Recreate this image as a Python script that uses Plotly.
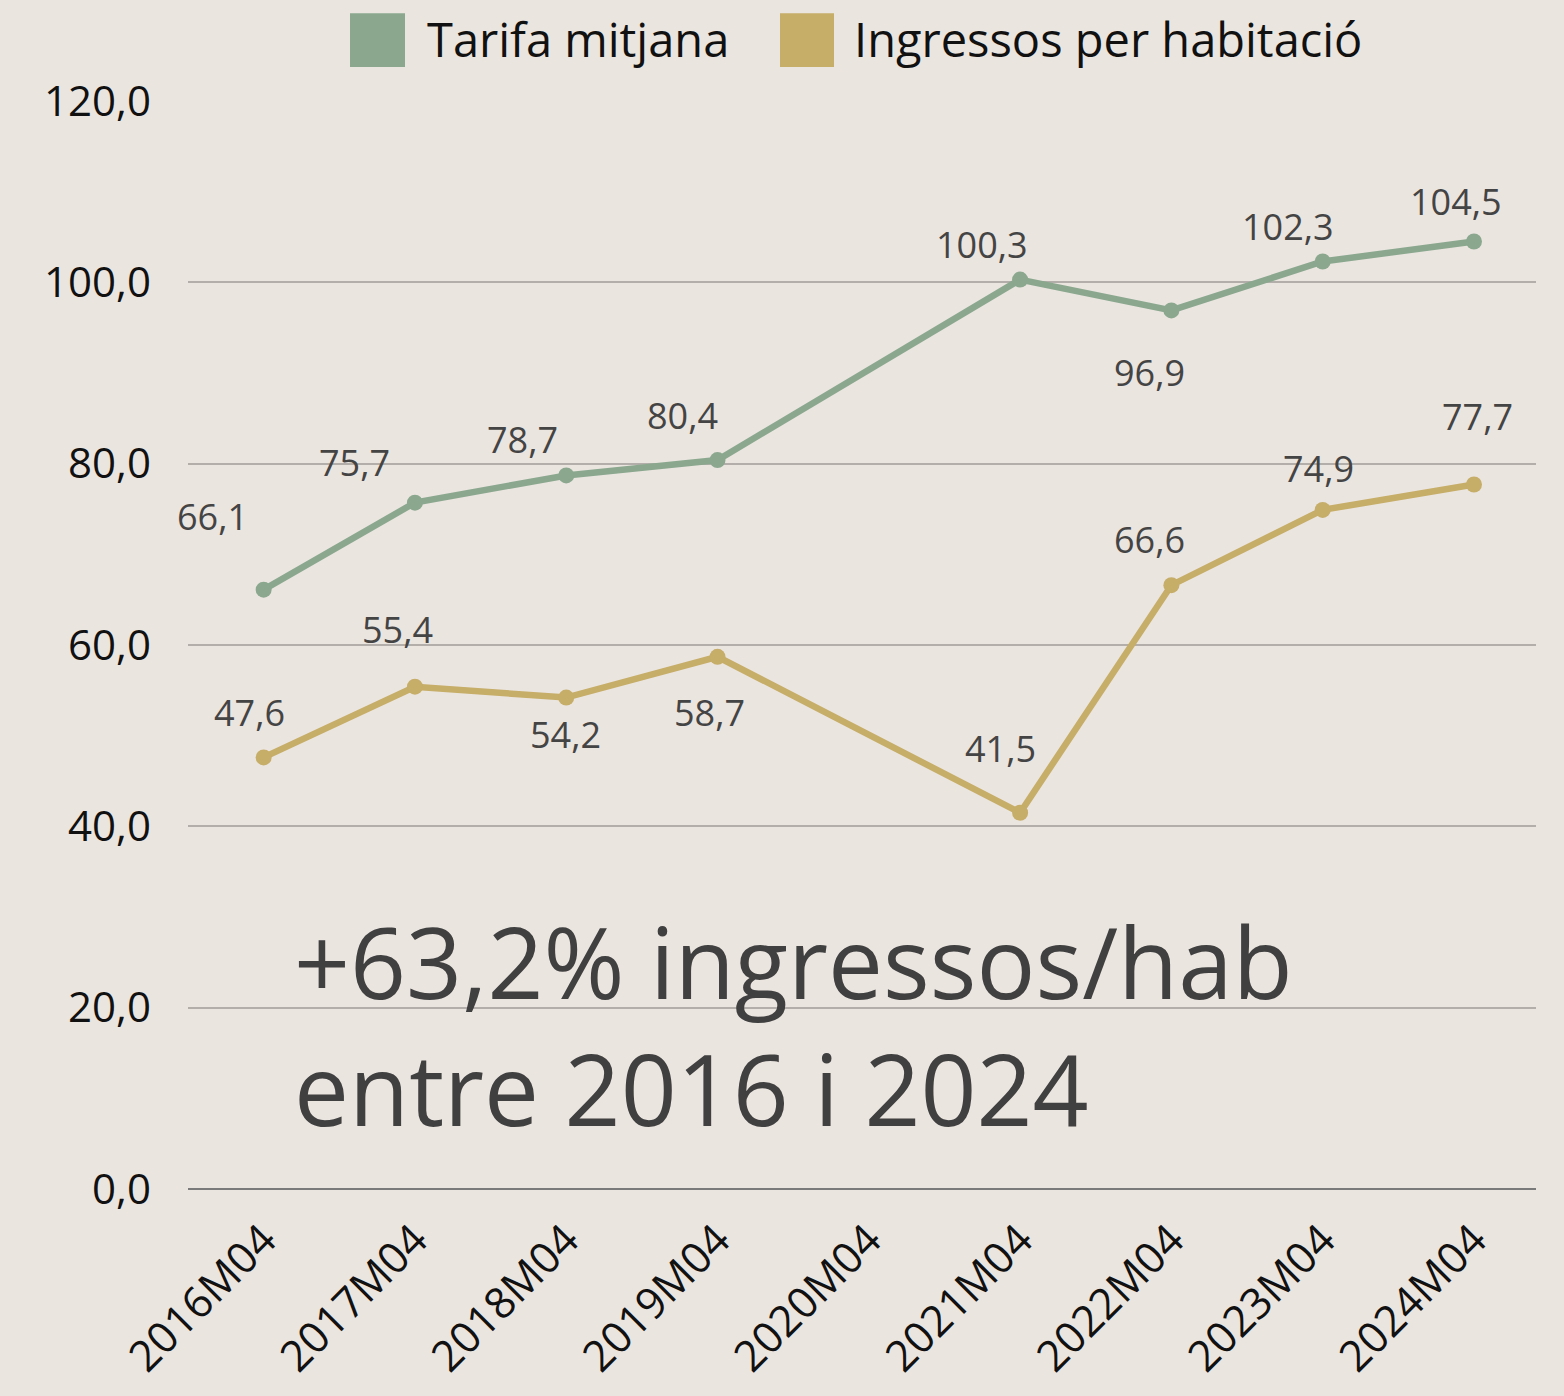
import plotly.graph_objects as go

categories = ["2016M04", "2017M04", "2018M04", "2019M04", "2020M04",
              "2021M04", "2022M04", "2023M04", "2024M04"]
tarifa = [66.1, 75.7, 78.7, 80.4, None, 100.3, 96.9, 102.3, 104.5]
ingressos = [47.6, 55.4, 54.2, 58.7, None, 41.5, 66.6, 74.9, 77.7]
series_names = ["Tarifa mitjana", "Ingressos per habitació"]
y_ticks = [0, 20, 40, 60, 80, 100, 120]
note_text = "+63,2% ingressos/hab<br>entre 2016 i 2024"

# label offsets (pixels) for the value labels: (xshift, yshift)
tarifa_offsets = [(-51, 73), (-60, 40), (-44, 36), (-35, 45), None,
                  (-38, 35), (-22, -62), (-35, 35), (-18, 40)]
ingressos_offsets = [(-14, 45), (-17, 57), (-1, -37), (-8, -56), None,
                     (-20, 64), (-22, 46), (-4, 41), (4, 68)]

GREEN = "#8BA88F"
GOLD = "#C6AD68"
BG = "#EBE5E0"
FONT = "Open Sans"

def fmt(v):
    return f"{v:.1f}".replace(".", ",")

fig = go.Figure()
for name, vals, col in [(series_names[0], tarifa, GREEN), (series_names[1], ingressos, GOLD)]:
    fig.add_trace(go.Scatter(
        x=categories, y=vals, name=name, mode="lines+markers",
        connectgaps=True, showlegend=False,
        line=dict(color=col, width=6.5),
        marker=dict(color=col, size=16),
    ))

annotations = []
for vals, offs in [(tarifa, tarifa_offsets), (ingressos, ingressos_offsets)]:
    for c, v, o in zip(categories, vals, offs):
        if v is None:
            continue
        annotations.append(dict(
            x=c, y=v, xref="x", yref="y", text=fmt(v), showarrow=False,
            xshift=o[0], yshift=o[1],
            font=dict(family=FONT, size=36, color="#444444"),
        ))

# legend (manual squares + text)
X0, X1, Y0, Y1 = 188, 1536, 101, 1191
def px(xp):
    return (xp - X0) / (X1 - X0)
def py(yp):
    return (Y1 - yp) / (Y1 - Y0)

shapes = []
legend_items = [(series_names[0], GREEN, 350, 405, 425), (series_names[1], GOLD, 780, 834, 852)]
for name, col, sx0, sx1, tx in legend_items:
    shapes.append(dict(type="rect", xref="paper", yref="paper",
                       x0=px(sx0), x1=px(sx1), y0=py(67), y1=py(13),
                       fillcolor=col, line=dict(width=0)))
    annotations.append(dict(x=px(tx), y=py(39), xref="paper", yref="paper",
                            text=name, showarrow=False, xanchor="left", yanchor="middle",
                            font=dict(family=FONT, size=47, color="#111111")))

annotations.append(dict(x=px(292), y=py(1026), xref="paper", yref="paper",
                        text=note_text, showarrow=False, xanchor="left", yanchor="middle",
                        align="left",
                        font=dict(family=FONT, size=98, color="#404040")))

fig.update_layout(
    width=1564, height=1396,
    paper_bgcolor=BG, plot_bgcolor=BG,
    margin=dict(l=X0, r=1564 - X1, t=Y0, b=1396 - Y1),
    showlegend=False,
    annotations=annotations, shapes=shapes,
    xaxis=dict(type="category", range=[-0.5, 8.41], tickangle=-45,
               showgrid=False, showline=False, ticks="", ticklabelstandoff=16,
               tickfont=dict(family=FONT, size=43, color="#111111")),
    yaxis=dict(range=[0, 120], tickvals=y_ticks,
               ticktext=[fmt(t) for t in y_ticks],
               showgrid=True, gridcolor="#B3AEAA", gridwidth=1.5,
               zeroline=True, zerolinecolor="#7A7A7A", zerolinewidth=2,
               ticks="", ticklabelstandoff=36,
               tickfont=dict(family=FONT, size=42, color="#111111")),
)

fig.write_html("out.html", config={"displayModeBar": False},
               post_script="document.body.style.margin='0';document.body.style.background='" + BG + "';")
